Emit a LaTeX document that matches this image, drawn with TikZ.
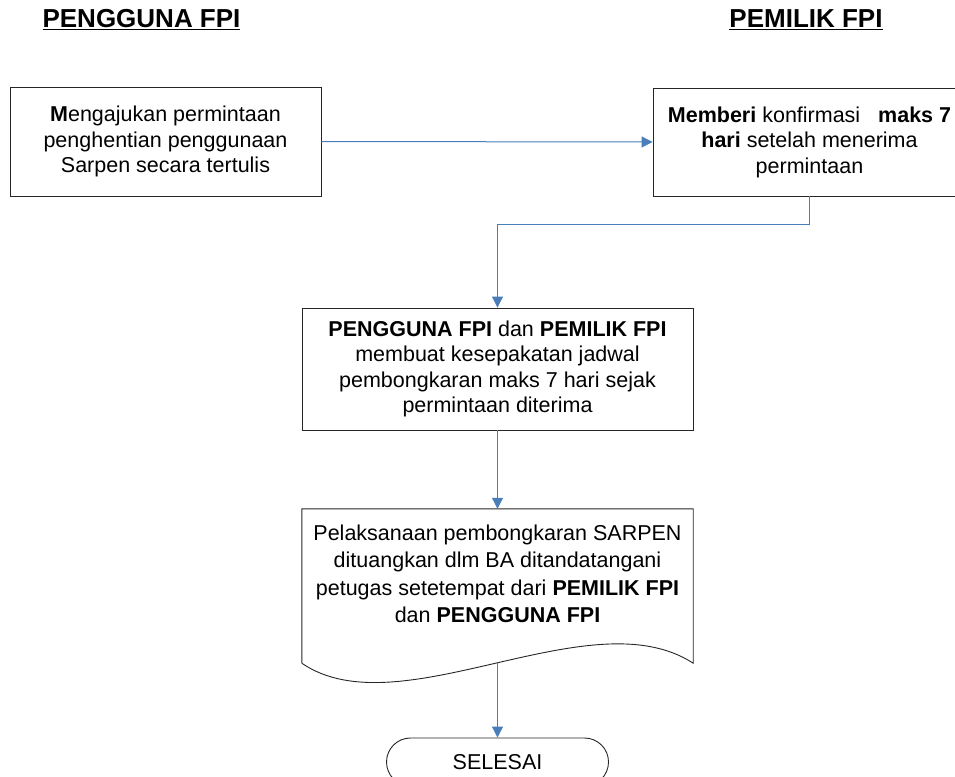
\documentclass[tikz,border=0pt]{standalone}
\usepackage{fontspec}
\setmainfont{Liberation Sans}
\usepackage{xcolor}
\usepackage{tikz}
\usetikzlibrary{arrows.meta,calc}
\definecolor{lnB}{HTML}{4A7EBB}

\begin{document}
\begin{tikzpicture}[x=1pt,y=-1pt, font=\fontsize{21.5}{25.5}\selectfont,
  box/.style={draw=black!85, line width=0.9pt, align=center, inner sep=0pt},
  doc/.style={inner sep=0pt},
  term/.style={draw=black!85, line width=0.9pt, rounded corners=24pt, inner sep=0pt,
               minimum width=222pt, minimum height=48pt},
  head/.style={font=\fontsize{26}{30}\selectfont\bfseries, anchor=base, inner sep=0pt},
  arr/.style={-{Triangle[length=11pt,width=11pt]}, line width=1pt, draw=lnB},
  ]
\clip (0,0) rectangle (955,776);
% ---- the two parties
\node[head] (hUser) at (141.5,28) {\underline{PENGGUNA FPI}};
\node[head] (hOwner) at (806,28) {\underline{PEMILIK FPI}};
% ---- request and confirmation
\node[box, minimum width=311pt, minimum height=109pt] (req) at (165.5,141.5)
  {\textbf{M}engajukan permintaan\\penghentian penggunaan\\Sarpen secara tertulis};
\node[box, minimum width=313pt, minimum height=108pt] (conf) at (809.5,142)
  {\textbf{Memberi} konfirmasi \ \ \textbf{maks 7}\\\textbf{hari} setelah menerima\\permintaan};
\draw[arr] (req.east) -- (conf.west);
% ---- agreement
\node[box, minimum width=391pt, minimum height=122pt] (agree) at (497.5,369)
  {\textbf{PENGGUNA FPI} dan \textbf{PEMILIK FPI}\\membuat kesepakatan jadwal\\pembongkaran maks 7 hari sejak\\permintaan diterima};
\draw[arr] (conf.south) -- ++(0,28) -| (agree.north);
% ---- the document
\node[doc, minimum width=391pt, minimum height=154pt] (bap) at (497.5,586) {};
\draw[draw=black!85, line width=0.9pt] (bap.south west) -- (bap.north west) -- (bap.north east) -- (bap.south east)
  .. controls ($(bap.south east)+(-103,-67)$) and ($(bap.south west)+(98,67)$) .. (bap.south west);
\node[align=center, inner sep=0pt, font=\fontsize{21.5}{27.5}\selectfont] (bapText) at (497.5,574)
  {Pelaksanaan pembongkaran SARPEN\\dituangkan dlm BA ditandatangani\\petugas setetempat dari \textbf{PEMILIK FPI}\\dan \textbf{PENGGUNA FPI}};
\draw[arr] (agree.south) -- (bap.north);
% ---- end
\node[term] (stop) at (497.5,762) {SELESAI};
\draw[arr] (bap.south) -- (stop.north);
\end{tikzpicture}
\end{document}
